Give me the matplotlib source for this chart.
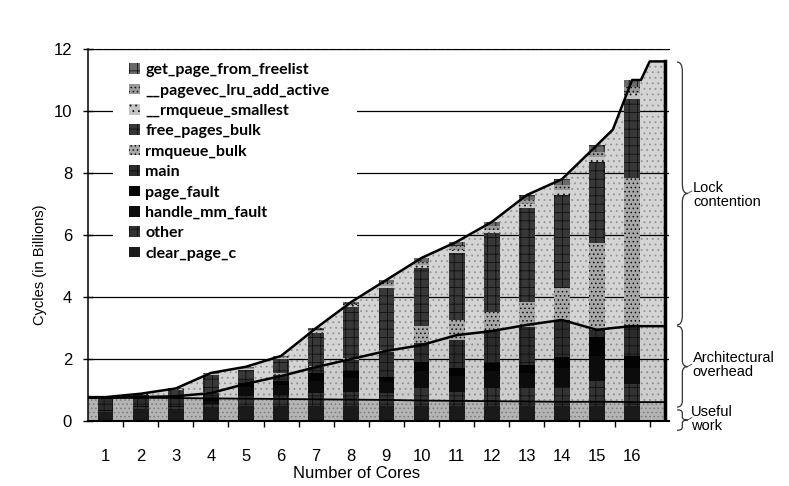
import matplotlib
matplotlib.use('Agg')
import matplotlib.pyplot as plt
from matplotlib.path import Path
from matplotlib.patches import PathPatch, Rectangle

plt.rcParams['font.family'] = ['Liberation Sans', 'DejaVu Sans']
plt.rcParams['hatch.linewidth'] = 0.6

# Number of cores on the x axis
cores = list(range(1, 17))
core_labels = [str(c) for c in cores]

# Stacked bar components, bottom -> top (billions of cycles)
clear_page_c = [0.30, 0.40, 0.40, 0.45, 0.50, 0.50, 0.50, 0.50, 0.50, 0.50, 0.50, 0.50, 0.50, 0.50, 0.50, 0.50]
other = [0.02, 0.04, 0.04, 0.10, 0.30, 0.35, 0.40, 0.45, 0.40, 0.55, 0.45, 0.55, 0.55, 0.60, 0.80, 0.70]
handle_mm_fault = [0.02, 0.04, 0.04, 0.10, 0.30, 0.30, 0.40, 0.45, 0.35, 0.55, 0.50, 0.55, 0.50, 0.60, 0.80, 0.50]
page_fault = [0.01, 0.02, 0.02, 0.05, 0.12, 0.15, 0.24, 0.20, 0.17, 0.30, 0.25, 0.27, 0.25, 0.36, 0.60, 0.40]
main = [0.35, 0.25, 0.20, 0.20, 0.12, 0.20, 0.20, 0.37, 0.81, 0.62, 0.91, 1.07, 1.23, 1.20, 0.24, 1.00]
rmqueue_bulk = [0.02, 0.02, 0.03, 0.05, 0.03, 0.05, 0.04, 0.05, 0.05, 0.54, 0.65, 0.58, 0.81, 1.04, 2.80, 4.74]
free_pages_bulk = [0.03, 0.08, 0.27, 0.55, 0.28, 0.45, 1.07, 1.66, 2.01, 1.88, 2.16, 2.54, 3.03, 3.00, 2.61, 2.56]
rmqueue_smallest = [0.01, 0.01, 0.02, 0.02, 0.03, 0.03, 0.05, 0.05, 0.08, 0.10, 0.11, 0.11, 0.13, 0.15, 0.16, 0.18]
pagevec_lru_add_active = [0.005, 0.01, 0.01, 0.01, 0.03, 0.03, 0.04, 0.05, 0.08, 0.10, 0.11, 0.11, 0.12, 0.15, 0.17, 0.18]
get_page_from_freelist = [0.005, 0.01, 0.02, 0.02, 0.04, 0.04, 0.06, 0.06, 0.10, 0.12, 0.14, 0.14, 0.17, 0.20, 0.22, 0.24]

series = [
    ('clear_page_c', clear_page_c, '#1a1a1a', None),
    ('other', other, '#333333', '++'),
    ('handle_mm_fault', handle_mm_fault, '#0c0c0c', None),
    ('page_fault', page_fault, '#030303', None),
    ('main', main, '#2c2c2c', '++'),
    ('rmqueue_bulk', rmqueue_bulk, '#a8a8a8', '....'),
    ('free_pages_bulk', free_pages_bulk, '#383838', '++'),
    ('__rmqueue_smallest', rmqueue_smallest, '#c4c4c4', '...'),
    ('__pagevec_lru_add_active', pagevec_lru_add_active, '#9a9a9a', '....'),
    ('get_page_from_freelist', get_page_from_freelist, '#6a6a6a', '++'),
]

# Background breakdown areas (useful work / architectural overhead / lock contention)
area_x = [0.5, 1, 2, 3, 4, 5, 6, 7, 8, 9, 10, 11, 12, 13, 14, 15, 15.45, 16, 16.25, 16.5, 16.95]
useful_top = [0.75, 0.75, 0.75, 0.74, 0.73, 0.72, 0.71, 0.70, 0.69, 0.68, 0.66, 0.65, 0.64, 0.63, 0.62, 0.62, 0.62, 0.61, 0.61, 0.61, 0.61]
arch_top = [0.75, 0.75, 0.77, 0.80, 0.90, 1.20, 1.45, 1.74, 2.00, 2.26, 2.45, 2.77, 2.90, 3.10, 3.26, 2.94, 3.00, 3.06, 3.06, 3.06, 3.06]
lock_top = [0.77, 0.77, 0.88, 1.05, 1.55, 1.75, 2.10, 3.00, 3.84, 4.55, 5.26, 5.78, 6.42, 7.29, 7.80, 8.90, 9.40, 11.00, 11.00, 11.60, 11.60]

fig = plt.figure(figsize=(7.89, 4.86), dpi=100)
ax = fig.add_axes([88 / 789, 65 / 486, 581 / 789, 372 / 486])

ax.fill_between(area_x, 0, useful_top, facecolor='#b4b4b4', edgecolor='#7a7a7a',
                hatch='....', linewidth=0, zorder=1)
ax.fill_between(area_x, useful_top, arch_top, facecolor='#cdcdcd', edgecolor='#8c8c8c',
                hatch='...', linewidth=0, zorder=1)
ax.fill_between(area_x, arch_top, lock_top, facecolor='#d4d4d4', edgecolor='#939393',
                hatch='...', linewidth=0, zorder=1)

bottom = [0.0] * len(cores)
handles = []
for name, vals, col, hatch in series:
    bars = ax.bar(cores, vals, width=0.45, bottom=bottom, color=col, hatch=hatch,
                  edgecolor='#101010' if hatch else col, linewidth=0, zorder=2, label=name)
    bottom = [b + v for b, v in zip(bottom, vals)]
    handles.append(bars)

ax.plot(area_x, lock_top, color='black', lw=1.8, zorder=4)
ax.plot(area_x, arch_top, color='black', lw=1.8, zorder=4)
ax.plot(area_x, useful_top, color='black', lw=1.3, zorder=4)
ax.plot([area_x[-1], area_x[-1]], [0, lock_top[-1]], color='black', lw=2.5, zorder=4)

ax.set_xlim(0.5, 17.05)
ax.set_ylim(0, 12)
ax.set_yticks(range(0, 13, 2))
ax.yaxis.grid(True, color='black', lw=0.9)
ax.set_xticks(cores)
ax.set_xticklabels(core_labels)
ax.set_xticks([c + 0.5 for c in cores], minor=True)
ax.tick_params(axis='x', which='major', length=0, pad=20, labelsize=12)
ax.tick_params(axis='x', which='minor', length=4, direction='out', width=1)
ax.tick_params(axis='y', length=7, direction='inout', pad=8, labelsize=12, width=1)

ax.spines['right'].set_visible(False)
ax.spines['top'].set_linestyle((0, (5, 2)))
ax.spines['top'].set_linewidth(0.8)
ax.spines['left'].set_linewidth(1.1)
ax.spines['bottom'].set_linewidth(1.5)

ax.set_ylabel('Cycles (in Billions)', fontsize=10.5)
ax.yaxis.set_label_coords(-0.07, 0.42)
ax.set_xlabel('Number of Cores', fontsize=12)
ax.xaxis.set_label_coords(0.463, -0.122)

# white patch behind the legend
ax.add_patch(Rectangle((0.043, 0.392), 0.42, 0.592, transform=ax.transAxes,
                       facecolor='white', edgecolor='none', zorder=1.7))
leg = ax.legend(handles[::-1], [s[0] for s in series][::-1], loc='upper left',
                bbox_to_anchor=(118 / 789, 1 - 52 / 486), bbox_transform=fig.transFigure,
                frameon=False, prop={'family': 'Lato', 'size': 11.5, 'weight': 'bold'},
                handlelength=0.65, handleheight=0.65, handletextpad=0.35,
                labelspacing=0.4, borderpad=0.2)
leg.set_zorder(5)


def brace(x, y0, y1, w, h):
    ym = (y0 + y1) / 2
    verts = [(x, y1), (x + w / 2, y1), (x + w / 2, y1 - h),
             (x + w / 2, ym + h),
             (x + w / 2, ym), (x + w, ym),
             (x + w / 2, ym), (x + w / 2, ym - h),
             (x + w / 2, y0 + h),
             (x + w / 2, y0), (x, y0)]
    codes = [Path.MOVETO, Path.CURVE3, Path.CURVE3, Path.LINETO,
             Path.CURVE3, Path.CURVE3, Path.CURVE3, Path.CURVE3,
             Path.LINETO, Path.CURVE3, Path.CURVE3]
    ax.add_patch(PathPatch(Path(verts, codes), facecolor='none', edgecolor='#333333',
                           lw=0.9, clip_on=False, zorder=5))
    ax.plot([x + w, x + w + 0.12], [ym, ym + 0.08], color='#555555', lw=0.7, clip_on=False)


brace(17.28, 3.1, 11.58, 0.3, 0.3)
brace(17.28, 0.45, 3.06, 0.3, 0.2)
brace(17.28, -0.3, 0.36, 0.3, 0.1)
ax.text(17.74, 7.3, 'Lock\ncontention', fontsize=10.5, va='center', ha='left',
        linespacing=1.0, clip_on=False)
ax.text(17.72, 1.82, 'Architectural\noverhead', fontsize=10.5, va='center', ha='left',
        linespacing=1.0, clip_on=False)
ax.text(17.67, 0.08, 'Useful\nwork', fontsize=10.5, va='center', ha='left',
        linespacing=1.0, clip_on=False)

fig.savefig('out.png', dpi=100)
